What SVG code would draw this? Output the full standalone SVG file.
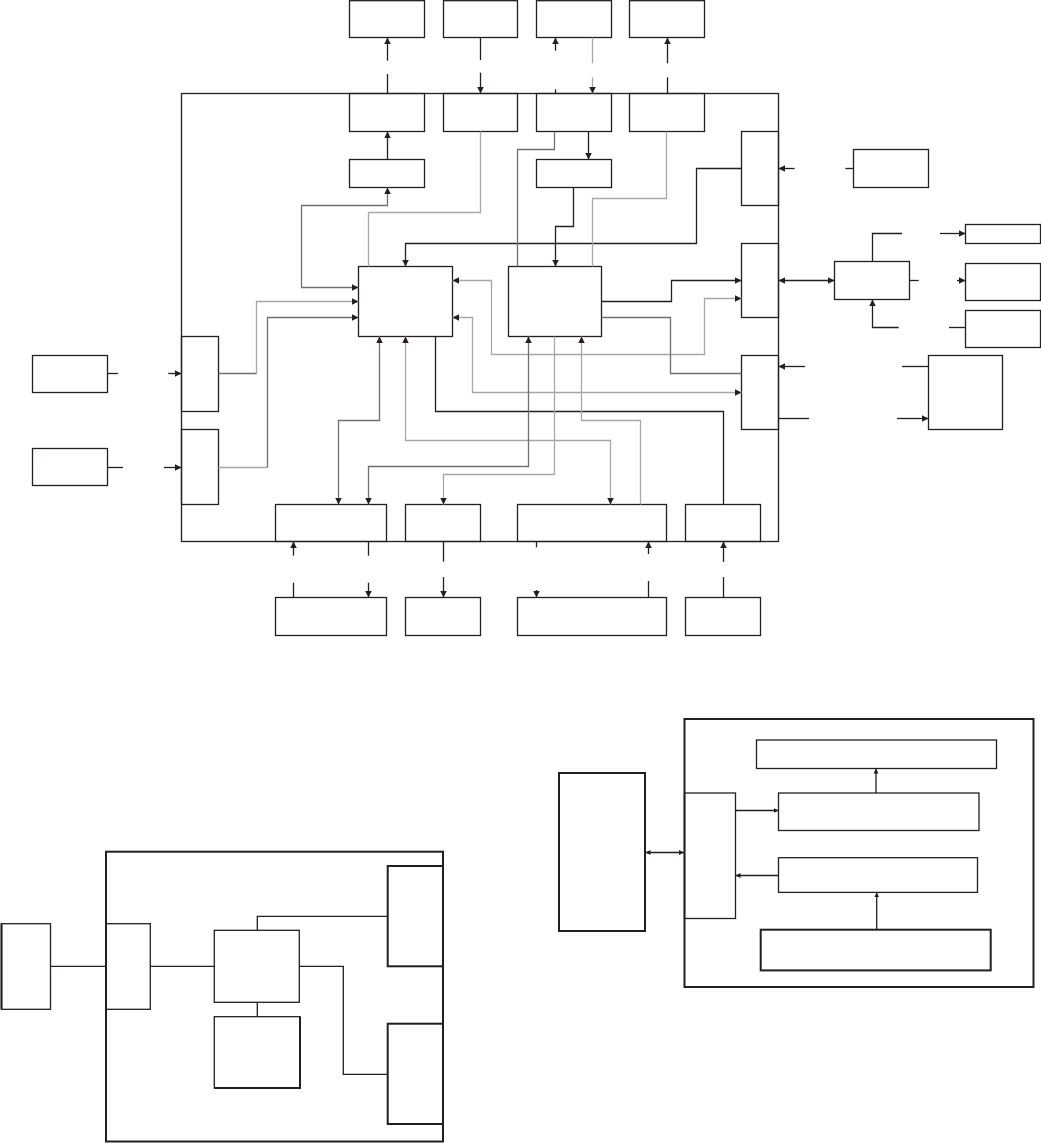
<svg xmlns="http://www.w3.org/2000/svg" width="1041" height="1143" viewBox="0 0 1041 1143">
<style>
.n{fill:none;stroke:#231f20;stroke-width:1.3}
.t{fill:none;stroke:#231f20;stroke-width:2}
.c{fill:none;stroke:#231f20;stroke-width:1.3}
.g1{fill:none;stroke:#a8a8a8;stroke-width:1.3}
.g2{fill:none;stroke:#707070;stroke-width:1.3}
.a{marker-end:url(#ah)}
.b{marker-start:url(#ah);marker-end:url(#ah)}
.sa{marker-end:url(#sh)}
.sb{marker-start:url(#sh);marker-end:url(#sh)}
</style>
<defs>
<marker id="ah" viewBox="0 0 10 10" refX="10" refY="5" markerWidth="6.5" markerHeight="6.5" markerUnits="userSpaceOnUse" orient="auto-start-reverse"><path d="M0,0L10,5L0,10z" fill="#231f20"/></marker>
<marker id="sh" viewBox="0 0 10 10" refX="10" refY="5" markerWidth="5" markerHeight="5" markerUnits="userSpaceOnUse" orient="auto-start-reverse"><path d="M0,0L10,5L0,10z" fill="#231f20"/></marker>
</defs>
<rect width="1041" height="1143" fill="#fff"/>

<g id="frame"><rect class="n" x="181.5" y="93.5" width="597" height="448"/></g>

<g id="T1"><rect class="n" x="349.5" y="0.7" width="75" height="36.8"/></g>
<g id="T2"><rect class="n" x="443.5" y="0.7" width="74" height="36.8"/></g>
<g id="T3"><rect class="n" x="536.5" y="0.7" width="75" height="36.8"/></g>
<g id="T4"><rect class="n" x="629.5" y="0.7" width="75" height="36.8"/></g>
<g id="M1"><rect class="n" x="349.5" y="93.5" width="75" height="38"/></g>
<g id="M2"><rect class="n" x="443.5" y="93.5" width="74" height="38"/></g>
<g id="M3"><rect class="n" x="536.5" y="93.5" width="75" height="38"/></g>
<g id="M4"><rect class="n" x="629.5" y="93.5" width="75" height="38"/></g>
<g id="S1"><rect class="n" x="349.5" y="159.5" width="75" height="28"/></g>
<g id="S3"><rect class="n" x="536.5" y="159.5" width="75" height="28"/></g>
<g id="A"><rect class="n" x="358.5" y="266.5" width="94" height="70"/></g>
<g id="B"><rect class="n" x="508.5" y="266.5" width="93" height="70"/></g>
<g id="R1"><rect class="n" x="741.5" y="131.5" width="37" height="74"/></g>
<g id="R2"><rect class="n" x="741.5" y="243.5" width="37" height="74"/></g>
<g id="R3"><rect class="n" x="741.5" y="355.5" width="37" height="74"/></g>
<g id="L1"><rect class="n" x="181.5" y="336.5" width="37" height="75"/></g>
<g id="L2"><rect class="n" x="181.5" y="429.5" width="37" height="75"/></g>
<g id="X1"><rect class="n" x="32.5" y="355.5" width="75" height="37"/></g>
<g id="X2"><rect class="n" x="32.5" y="448.5" width="75" height="37"/></g>
<g id="b1"><rect class="n" x="275.5" y="504.5" width="111" height="37"/></g>
<g id="b2"><rect class="n" x="405.5" y="504.5" width="75" height="37"/></g>
<g id="b3"><rect class="n" x="517.5" y="504.5" width="149" height="37"/></g>
<g id="b4"><rect class="n" x="685.5" y="504.5" width="75" height="37"/></g>
<g id="e1"><rect class="n" x="275.5" y="597.5" width="111" height="38"/></g>
<g id="e2"><rect class="n" x="405.5" y="597.5" width="75" height="38"/></g>
<g id="e3"><rect class="n" x="517.5" y="597.5" width="149" height="38"/></g>
<g id="e4"><rect class="n" x="685.5" y="597.5" width="75" height="38"/></g>
<g id="E1"><rect class="n" x="853.5" y="149.5" width="75" height="38"/></g>
<g id="E2"><rect class="n" x="834.5" y="261.5" width="75" height="38"/></g>
<g id="E3"><rect class="n" x="965.5" y="224.5" width="75" height="19"/></g>
<g id="E4"><rect class="n" x="965.5" y="263.5" width="75" height="37"/></g>
<g id="E5"><rect class="n" x="965.5" y="310.5" width="75" height="37"/></g>
<g id="E6"><rect class="n" x="928.5" y="355.5" width="74" height="74"/></g>

<g id="P2-outer"><rect class="t" x="684.5" y="719" width="349" height="268"/></g>
<g id="P2-left"><rect class="t" x="559" y="773" width="86" height="158"/></g>
<g id="P2-if"><rect class="n" x="684.5" y="793" width="51" height="125.5"/></g>
<g id="P2-top"><rect class="n" x="756.5" y="740" width="240" height="28.5"/></g>
<g id="P2-b2"><rect class="n" x="778.5" y="793" width="200.5" height="37.5" stroke-width="1.7"/></g>
<g id="P2-b3"><rect class="n" x="778.5" y="857.7" width="199" height="34.7"/></g>
<g id="P2-b4"><rect class="t" x="760.7" y="929.7" width="230" height="40.7"/></g>

<g id="P1-outer"><rect class="t" x="106" y="851.7" width="337" height="289.8"/></g>
<g id="P1-ext"><rect class="n" x="1.5" y="923.7" width="49" height="85.6"/><path class="t" d="M1.5,923.7V1009.3"/></g>
<g id="P1-if"><rect class="n" x="106" y="923.7" width="44.3" height="85.6"/></g>
<g id="P1-c"><rect class="n" x="214.3" y="930.3" width="85" height="72"/></g>
<g id="P1-m"><rect class="n" x="214.3" y="1016.7" width="85.7" height="71.3"/><path class="t" d="M214.3,1088H300V1016.7"/></g>
<g id="P1-r1"><rect class="t" x="387.7" y="866" width="55.3" height="100.3"/></g>
<g id="P1-r2"><rect class="t" x="387.7" y="1023.7" width="55.3" height="100.3"/></g>

<g id="connectors">
<path class="c" d="M387.5,93.5V74"/><path class="c a" d="M387.5,60.7V37.5"/>
<path class="c a" d="M387.5,159.5V131.5"/>
<path class="c" d="M480.5,37.5V60"/><path class="c a" d="M480.5,72.7V93.5"/>
<path class="c a" d="M555.5,50.7V37.5"/><path class="c" d="M555.5,89.3V93.5"/>
<path class="g1" d="M592.5,37.5V63.3"/><path class="g1 a" d="M592.5,77.3V93.5"/>
<path class="c a" d="M667.5,63.3V37.5"/><path class="c" d="M667.5,93.5V77.3"/>
<path class="c a" d="M588.5,131.5V159.5"/>
<path class="c a" d="M573.5,187.5V226.5H555.5V266.5"/>
<path class="c a" d="M741.5,168.5H696.5V243.5H405.5V266.5"/>
<path class="c a" d="M601.5,301.5H671.5V280.5H741.5"/>
<path class="c" d="M435.5,336.5V411.5H723.5V504.5"/>
<path class="c a" d="M794.7,168.5H778.5"/><path class="c" d="M845.3,168.5H853.5"/>
<path class="c b" d="M778.5,280.5H834.5"/>
<path class="c" d="M872.5,261.5V233.5H902"/><path class="c a" d="M940,233.5H965.5"/>
<path class="c" d="M909.5,280.5H918.7"/><path class="c a" d="M957,280.5H965.5"/>
<path class="c" d="M949,327.5H965.5"/><path class="c a" d="M898.7,327.5H872.5V299.5"/>
<path class="c a" d="M805,366.5H778.5"/><path class="c" d="M902,366.5H928.5"/>
<path class="c" d="M778.5,418.5H809"/><path class="c a" d="M897,418.5H928.5"/>
<path class="c" d="M107.5,373.5H118"/><path class="c a" d="M168.3,373.5H181.5"/>
<path class="c" d="M107.5,467.5H123"/><path class="c a" d="M164,467.5H181.5"/>
<path class="c a" d="M293.5,555.7V541.5"/><path class="c" d="M293.5,582.7V597.5"/>
<path class="c" d="M368.5,541.5V555.7"/><path class="c a" d="M368.5,582.7V597.5"/>
<path class="c" d="M443.5,541.5V561.7"/><path class="c a" d="M443.5,577V597.5"/>
<path class="c" d="M536.5,541.5V547.3"/><path class="c a" d="M536.5,590V597.5"/>
<path class="c a" d="M648.5,554V541.5"/><path class="c" d="M648.5,581V597.5"/>
<path class="c a" d="M723.5,562V541.5"/><path class="c" d="M723.5,577V597.5"/>

<path class="g2" d="M218.5,373.5H256.5"/><path class="g1 a" d="M256.5,373.5V301.5H358.5"/>
<path class="g1" d="M218.5,467.5H267.5"/><path class="g2 a" d="M267.5,467.5V317.5H358.5"/>
<path class="g2 b" d="M358.5,287.5H301.5V205.5H387.5V187.5"/>
<path class="g1" d="M480.5,131.5V212.5H368.5V266.5"/>
<path class="g2" d="M554.5,131.5V149.5H517.5V266.5"/>
<path class="g1" d="M666.5,131.5V198.5H592.5V266.5"/>
<path class="g1 b" d="M452.5,280.5H491.5V354.5H704.5V298.5H741.5"/>
<path class="g1 b" d="M452.5,317.5H472.5V392.5H741.5"/>
<path class="g2" d="M601.5,317.5H670.5V373.5H741.5"/>
<path class="g2 b" d="M379.5,336.5V420.5H338.5V504.5"/>
<path class="g1 b" d="M405.5,336.5V440.5H610.5V504.5"/>
<path class="g2 b" d="M528.5,336.5V466.5H368.5V504.5"/>
<path class="g1 a" d="M554.5,336.5V474.5H443.5V504.5"/>
<path class="g1 a" d="M640.5,504.5V420.5H581.5V336.5"/>

<path class="c sb" d="M645.5,852.5H684"/>
<path class="c sa" d="M735.5,810.5H778.5"/>
<path class="c sa" d="M778.5,875.5H735.5"/>
<path class="c sa" d="M876,793V768.5"/>
<path class="c sa" d="M876.7,929.7V892.4"/>

<path class="c" d="M50.5,966.3H106"/>
<path class="c" d="M150.3,966.3H214.3"/>
<path class="c" d="M257.3,1002.3V1016.7"/>
<path class="c" d="M257.3,930.3V916.3H387.7"/>
<path class="c" d="M299.3,966.3H343.3V1074.3H387.7"/>
</g>
</svg>
